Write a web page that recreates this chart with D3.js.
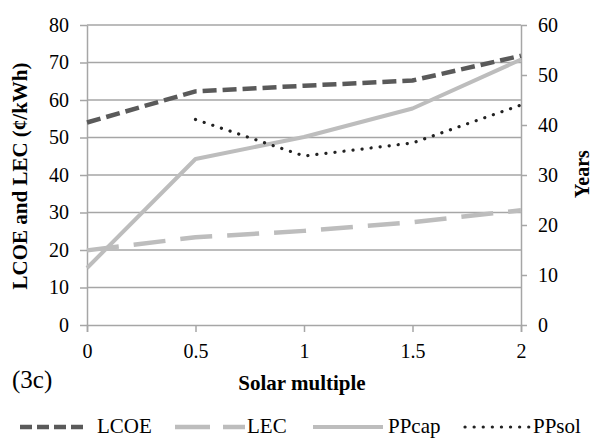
<!DOCTYPE html>
<html><head><meta charset="utf-8">
<script src="https://cdn.jsdelivr.net/npm/d3@7"></script>
<style>body{margin:0;background:#fff}svg{display:block}text{font-family:"Liberation Serif","Times New Roman",serif;fill:#000}</style>
</head><body><svg id="c" width="593" height="440"></svg>
<script>
const xValues = [0, 0.5, 1, 1.5, 2];
const lcoe = [54, 62.3, 63.8, 65.2, 71.8];
const lec = [19.9, 23.4, 25.1, 27.4, 30.6];
const ppcap = [11.4, 33.2, 37.6, 43.3, 53.1];
const ppsol = [null, 41.1, 33.8, 36.4, 44.0];
const leftTicks = [0,10,20,30,40,50,60,70,80];
const rightTicks = [0,10,20,30,40,50,60];
const xTicks = [0, 0.5, 1, 1.5, 2];

const svg = d3.select("#c");
const L = 87, R = 521, T = 25, B = 325;
const x = d3.scaleLinear().domain([0,2]).range([L,R]);
const yL = d3.scaleLinear().domain([0,80]).range([B,T]);
const yR = d3.scaleLinear().domain([0,60]).range([B,T]);
const grid = "#a6a6a6";
const FONT = "Liberation Serif";

// gridlines
svg.append("g").selectAll("line").data(leftTicks.filter(d=>d>0)).join("line")
  .attr("x1",L).attr("x2",R).attr("y1",d=>yL(d)).attr("y2",d=>yL(d))
  .attr("stroke",grid).attr("stroke-width",1.5);

function styleAxis(g){
  g.attr("font-family",FONT);
  g.select(".domain").attr("stroke",grid).attr("stroke-width",1.5);
  g.selectAll(".tick line").attr("stroke",grid).attr("stroke-width",1.5);
  g.selectAll(".tick text").style("font-family",FONT).style("font-size","20px").attr("fill","#000");
}
svg.append("g").attr("transform",`translate(${L},0)`)
  .call(d3.axisLeft(yL).tickValues(leftTicks).tickSize(7).tickSizeOuter(0).tickPadding(11))
  .call(styleAxis);
svg.append("g").attr("transform",`translate(${R},0)`)
  .call(d3.axisRight(yR).tickValues(rightTicks).tickSize(6).tickSizeOuter(0).tickPadding(11))
  .call(styleAxis);
svg.append("g").attr("transform",`translate(0,${B})`)
  .call(d3.axisBottom(x).tickValues(xTicks).tickFormat(d3.format("")).tickSize(7).tickPadding(12))
  .call(styleAxis);

const lineL = d3.line().defined(d=>d[1]!=null).x(d=>x(d[0])).y(d=>yL(d[1]));
const lineR = d3.line().defined(d=>d[1]!=null).x(d=>x(d[0])).y(d=>yR(d[1]));
const zip = a => xValues.map((v,i)=>[v,a[i]]);

const styles = {
  LCOE:{stroke:"#5a5a5a",w:4.5,dash:"14,6",cap:"butt",ldash:"12,5"},
  LEC:{stroke:"#bdbdbd",w:4.5,dash:"32,15",cap:"butt",ldash:"35,13"},
  PPcap:{stroke:"#bdbdbd",w:4,dash:null,cap:"butt",ldash:null},
  PPsol:{stroke:"#222",w:3.2,dash:"0.1,9",cap:"round",ldash:"0.1,9"}
};
function draw(path,name){
  const s=styles[name];
  svg.append("path").attr("d",path).attr("fill","none").attr("stroke",s.stroke)
    .attr("stroke-width",s.w).attr("stroke-dasharray",s.dash).attr("stroke-linecap",s.cap)
    .attr("stroke-linejoin","round");
}
draw(lineL(zip(lec)),"LEC");
draw(lineR(zip(ppcap)),"PPcap");
draw(lineR(zip(ppsol)),"PPsol");
draw(lineL(zip(lcoe)),"LCOE");

// titles
svg.append("text").attr("transform","translate(27,176) rotate(-90)").attr("text-anchor","middle")
  .style("font-size","21px").style("font-weight","bold").text("LCOE and LEC (¢/kWh)");
svg.append("text").attr("transform","translate(589,174) rotate(-90)").attr("text-anchor","middle")
  .style("font-size","20px").style("font-weight","bold").text("Years");
svg.append("text").attr("x",302).attr("y",390).attr("text-anchor","middle")
  .style("font-size","21px").style("font-weight","bold").text("Solar multiple");
svg.append("text").attr("x",12).attr("y",388).style("font-size","25px").text("(3c)");

// legend
const legend = [
  {name:"LCOE",x1:20,x2:84,tx:97},
  {name:"LEC",x1:175,x2:245,tx:247},
  {name:"PPcap",x1:313,x2:383,tx:388},
  {name:"PPsol",x1:465,x2:530,tx:533}
];
const ly = 427;
legend.forEach(l=>{
  const s=styles[l.name];
  svg.append("line").attr("x1",l.x1).attr("x2",l.x2).attr("y1",ly).attr("y2",ly)
    .attr("stroke",s.stroke).attr("stroke-width",s.w).attr("stroke-dasharray",s.ldash).attr("stroke-linecap",s.cap);
  svg.append("text").attr("x",l.tx).attr("y",ly+6).style("font-size","21px").text(l.name);
});
</script></body></html>
